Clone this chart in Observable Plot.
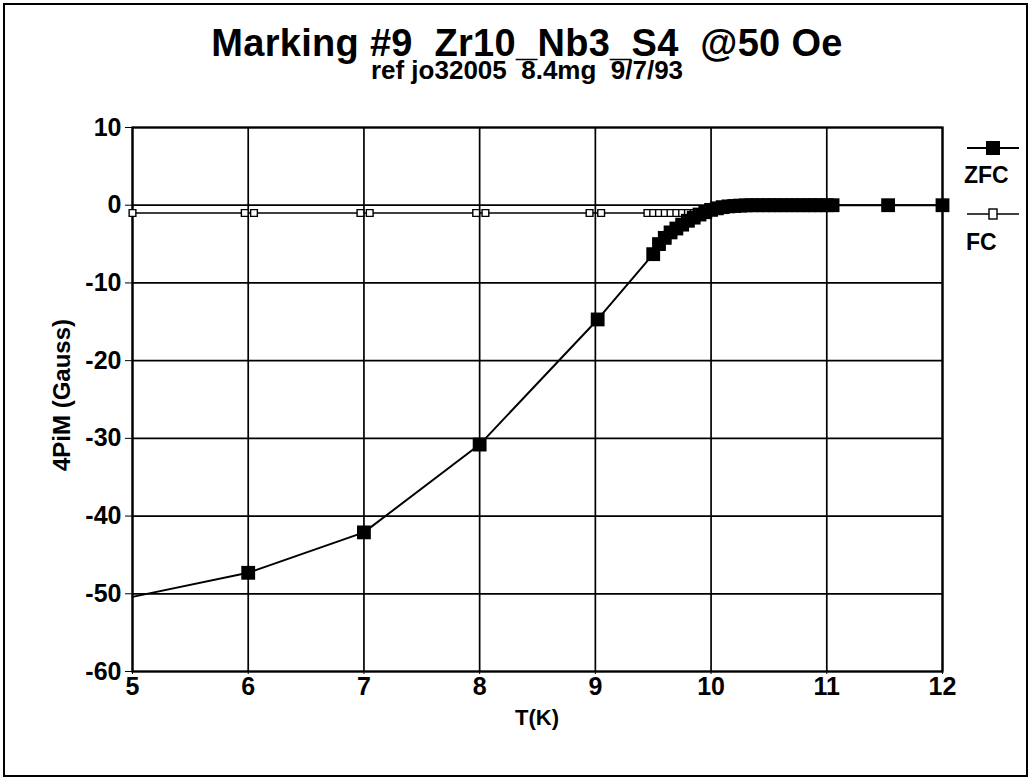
<!DOCTYPE html>
<html>
<head>
<meta charset="utf-8">
<script src="https://cdn.jsdelivr.net/npm/d3@7"></script>
<script src="https://cdn.jsdelivr.net/npm/@observablehq/plot@0.6"></script>
<style>
  body { margin: 0; background: #fff; }
  #page { position: relative; width: 1031px; height: 780px; overflow: hidden;
          font-family: "Liberation Sans", Arial, Helvetica, sans-serif; color: #000; }
  #page svg.chart { position: absolute; left: 0; top: 0; }
  #border { position: absolute; left: 3px; top: 3px; border: 2px solid #000; box-sizing: border-box; width: 1025px; height: 774px; }
  .t { position: absolute; white-space: pre; line-height: 1.15; }
  #title { left: 0; width: 1054px; top: 22px; text-align: center; font-size: 38px; font-weight: bold; letter-spacing: 0.3px; }
  #subtitle { left: 0; width: 1054px; top: 56px; text-align: center; font-size: 26px; font-weight: bold; }
  #ylabel { left: 62px; top: 395px; font-size: 24px; font-weight: bold; transform: translate(-50%, -50%) rotate(-90deg); }
  #xlabel { left: 537px; top: 718px; font-size: 22px; font-weight: bold; transform: translate(-50%, -50%); }
  #legend { position: absolute; left: 955px; top: 130px; }
  #legend text { font-family: "Liberation Sans", Arial, sans-serif; font-size: 23px; font-weight: bold; }
</style>
</head>
<body>
<div id="page">
  <div id="border"></div>
  <div id="subtitle" class="t">ref jo32005  8.4mg  9/7/93</div>
  <div id="title" class="t">Marking #9  Zr10_Nb3_S4  @50 Oe</div>
  <div id="ylabel" class="t">4PiM (Gauss)</div>
  <div id="xlabel" class="t">T(K)</div>
  <svg id="legend" width="76" height="130">
    <line x1="12" x2="64" y1="18" y2="18" stroke="#000" stroke-width="2"/>
    <rect x="31" y="11" width="14" height="14" fill="#000"/>
    <text x="9" y="53">ZFC</text>
    <line x1="12" x2="64" y1="84" y2="84" stroke="#000" stroke-width="1.6"/>
    <rect x="34" y="79" width="8" height="10" fill="#fff" stroke="#000" stroke-width="1.4"/>
    <text x="11" y="120">FC</text>
  </svg>
</div>
<script>
// Zero-field-cooled magnetisation, 4πM (Gauss) vs temperature T (K)
const zfcT = [5.0, 6.0, 7.0, 8.0, 9.02, 9.5, 9.55, 9.6, 9.65, 9.7, 9.75, 9.8, 9.85, 9.9, 9.95,
              10.0, 10.05, 10.1, 10.15, 10.2, 10.25, 10.3, 10.35, 10.4, 10.45, 10.5, 10.55,
              10.6, 10.65, 10.7, 10.75, 10.8, 10.85, 10.9, 10.95, 11.0, 11.05, 11.53, 12.0];
const zfcM = [-50.4, -47.3, -42.1, -30.8, -14.7, -6.3, -5.0, -4.2, -3.5, -3.0, -2.5, -2.0, -1.6, -1.2, -0.9,
              -0.6, -0.4, -0.25, -0.15, -0.1, -0.05, -0.02, 0, 0, 0, 0, 0,
              0, 0, 0, 0, 0, 0, 0, 0, 0, 0, 0, 0];

// Field-cooled magnetisation
const fcT = [5.0, 5.97, 6.05, 6.97, 7.05, 7.97, 8.05, 8.95, 9.05,
             9.45, 9.5, 9.55, 9.6, 9.65, 9.7, 9.75, 9.8, 9.85];
const fcM = [-1.0, -1.0, -1.0, -1.0, -1.0, -1.0, -1.0, -1.0, -1.0,
             -1.0, -1.0, -1.0, -1.0, -1.0, -1.0, -1.0, -1.0, -1.0];

const xTicks = [5, 6, 7, 8, 9, 10, 11, 12];
const yTicks = [10, 0, -10, -20, -30, -40, -50, -60];

const zfc = zfcT.map((T, i) => ({T, M: zfcM[i]}));
const fc = fcT.map((T, i) => ({T, M: fcM[i]}));

const chart = Plot.plot({
  width: 1031,
  height: 780,
  marginLeft: 132,
  marginRight: 89,
  marginTop: 127,
  marginBottom: 109,
  style: {
    fontFamily: '"Liberation Sans", Arial, Helvetica, sans-serif',
    fontSize: "25px",
    fontWeight: "bold",
    background: "transparent",
    overflow: "visible",
    color: "#000"
  },
  x: {domain: [5, 12], ticks: xTicks, tickSize: 3, tickPadding: 3, tickFormat: d => String(d), label: null},
  y: {domain: [-60, 10], ticks: yTicks, tickSize: 7, tickPadding: 4, tickFormat: d => String(d), label: null},
  marks: [
    Plot.ruleX(xTicks, {stroke: "#000", strokeWidth: 1.7}),
    Plot.ruleY(yTicks, {stroke: "#000", strokeWidth: 1.7}),
    Plot.frame({stroke: "#000", strokeWidth: 2.2}),
    Plot.line(fc, {x: "T", y: "M", stroke: "#000", strokeWidth: 1.6}),
    Plot.dot(fc, {x: "T", y: "M", symbol: "square", r: 3.8, fill: "#fff", stroke: "#000", strokeWidth: 1.4}),
    Plot.line(zfc, {x: "T", y: "M", stroke: "#000", strokeWidth: 2}),
    Plot.dot(zfc.filter(d => d.T > 5), {x: "T", y: "M", symbol: "square", r: 7.8, fill: "#000", stroke: "none"})
  ]
});
chart.classList.add("chart");
document.getElementById("page").prepend(chart);
</script>
</body>
</html>
